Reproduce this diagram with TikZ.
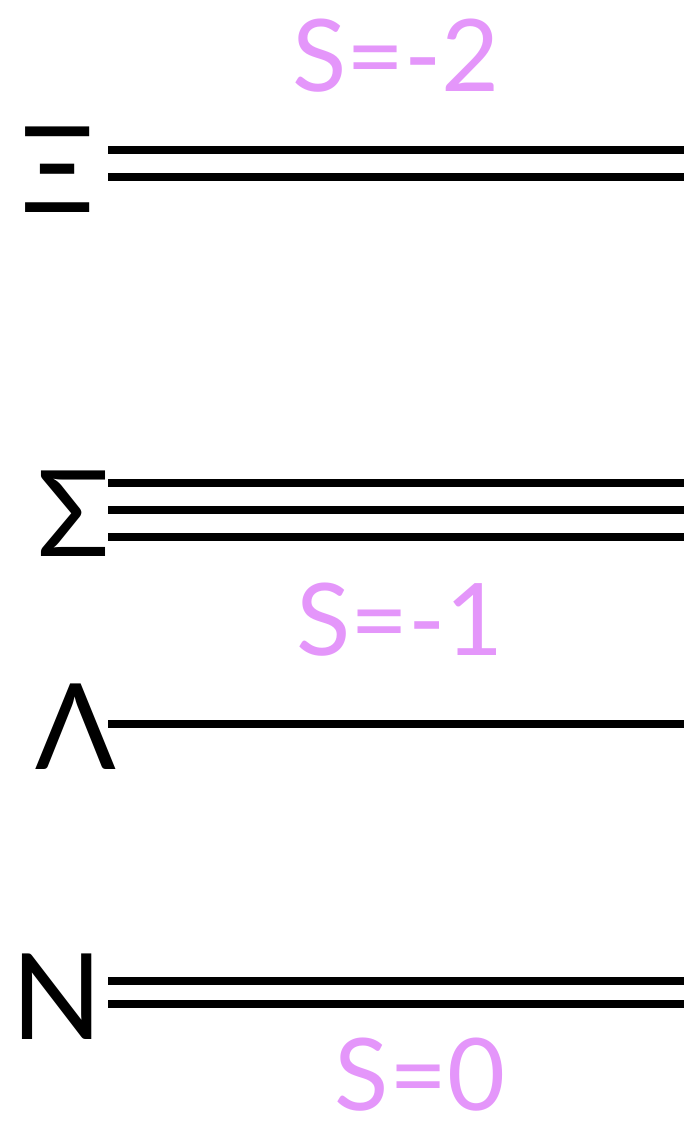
\documentclass[tikz,border=0pt]{standalone}
\usepackage{fontspec}
\setmainfont{Lato}
\usepackage{tikz}
\usetikzlibrary{calc}
\definecolor{strange}{RGB}{228,150,250}
\tikzstyle{level} = [line width=4.6pt]
\tikzstyle{baryon} = [inner sep=0pt, font=\fontsize{68}{72}\selectfont]
\tikzstyle{sval} = [inner sep=0pt, text=strange, font=\fontsize{57}{60}\selectfont]

\begin{document}
\begin{tikzpicture}[x=0.02cm,y=-0.02cm]
\useasboundingbox (0,0) rectangle (684,1121);

    \node[baryon] (xi) at (57,170) {Ξ};
    \node[baryon] (sigma) at (74,514) {Σ};
    \node[baryon] (lambda) at (76,727) {Λ};
    \node[baryon] (nuc) at (57,997) {N};

% levels
\foreach \y in {150,177} {
    \draw[level] (108,\y) -- (684,\y);
}
\foreach \y in {483,510,537} {
    \draw[level] (108,\y) -- (684,\y);
}
    \draw[level] (108,724) -- (684,724);
\foreach \y in {981,1004} {
    \draw[level] (108,\y) -- (684,\y);
}

    \node[sval] (s2) at (396,56) {S=-2};
    \node[sval] (s1) at (400,620) {S=-1};
    \node[sval] (s0) at (420,1075) {S=0};
\end{tikzpicture}
\end{document}
